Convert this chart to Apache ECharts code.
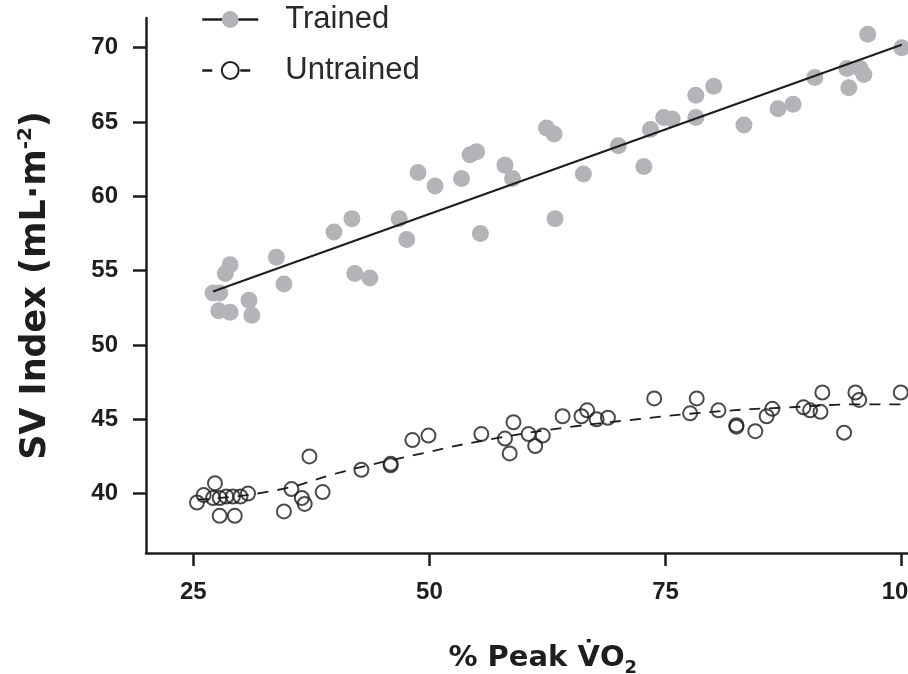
<!DOCTYPE html>
<html>
<head>
<meta charset="utf-8">
<script src="https://cdn.jsdelivr.net/npm/echarts@6/dist/echarts.min.js"></script>
<style>html,body{margin:0;padding:0;background:#fff}#c{width:908px;height:674px}</style>
</head>
<body>
<div id="c"></div>
<script>
// ---- data ----
var trainedX = [27.1,27.8,28.4,28.9,27.7,28.9,30.9,31.2,33.8,34.6,39.9,41.8,42.1,43.7,46.8,47.6,48.8,50.6,53.4,54.3,55.0,55.4,58.0,58.8,62.4,63.2,63.3,66.3,70.0,72.7,73.4,74.8,75.7,78.2,78.2,80.1,83.3,86.9,88.5,90.8,94.2,94.4,95.6,96.0,96.4,100.0];
var trainedY = [53.5,53.5,54.8,55.4,52.3,52.2,53.0,52.0,55.9,54.1,57.6,58.5,54.8,54.5,58.5,57.1,61.6,60.7,61.2,62.8,63.0,57.5,62.1,61.2,64.6,64.2,58.5,61.5,63.4,62.0,64.5,65.3,65.2,66.8,65.3,67.4,64.8,65.9,66.2,68.0,68.6,67.3,68.6,68.2,70.9,70.0];
var untrainedX = [25.4,26.1,27.3,27.1,27.8,28.5,29.2,30.0,30.8,27.8,29.4,34.6,35.4,36.5,36.8,37.3,38.7,42.8,45.9,45.9,48.2,49.9,55.5,58.0,58.5,58.9,60.5,61.2,62.0,64.1,66.1,66.7,67.7,68.9,73.8,77.6,78.3,80.6,82.5,82.5,84.5,85.7,86.3,89.6,90.3,91.4,91.6,93.9,95.1,95.5,99.9];
var untrainedY = [39.4,39.9,40.7,39.7,39.7,39.8,39.8,39.8,40.0,38.5,38.5,38.8,40.3,39.7,39.3,42.5,40.1,41.6,41.9,42.0,43.6,43.9,44.0,43.7,42.7,44.8,44.0,43.2,43.9,45.2,45.2,45.6,45.0,45.1,46.4,45.4,46.4,45.6,44.5,44.6,44.2,45.2,45.7,45.8,45.6,45.5,46.8,44.1,46.8,46.3,46.8];
var trainedFitX = [27.1, 100];
var trainedFitY = [53.6, 70.2];
var untrainedFitX = [25.5, 33.6, 41, 48.5, 56, 64, 72, 80, 88, 96, 100];
var untrainedFitY = [39.6, 40.2, 41.5, 42.6, 43.6, 44.4, 45.0, 45.5, 45.8, 46.0, 46.0];
var xTicks = [25, 50, 75, 100];
var yTicks = [40, 45, 50, 55, 60, 65, 70];
var xRange = [20, 104];
var yRange = [36, 72];
var seriesNames = ['Trained', 'Untrained'];

function pairs(xs, ys) { return xs.map(function (x, i) { return [x, ys[i]]; }); }

var FONT = '"Liberation Sans", Arial, Helvetica, sans-serif';
var TFONT = '"DejaVu Sans", "Liberation Sans", Arial, sans-serif';
var INK = '#1e1e1e';
var GRAY = '#b3b4b7';

var chart = echarts.init(document.getElementById('c'), null, { renderer: 'canvas' });
chart.setOption({
  animation: false,
  backgroundColor: '#fff',
  grid: { left: 146, top: 18, width: 793.5, height: 535, containLabel: false, outerBoundsMode: 'none' },
  legend: {
    orient: 'vertical', left: 201, top: 4, padding: 0,
    itemWidth: 56, itemHeight: 21, itemGap: 20,
    textStyle: { fontFamily: FONT, fontSize: 31, lineHeight: 30, color: '#2a2a2a', padding: [0, 0, 0, 22] },
    data: [
      { name: seriesNames[0], itemStyle: { color: GRAY, borderWidth: 0 }, lineStyle: { color: INK, width: 2.5, type: 'solid' } },
      { name: seriesNames[1], itemStyle: { color: '#fff', borderColor: INK, borderWidth: 2 }, lineStyle: { color: INK, width: 2.5, type: [10, 9] } }
    ]
  },
  xAxis: {
    type: 'value', min: xRange[0], max: xRange[1],
    axisLine: { onZero: false, lineStyle: { color: INK, width: 2.5 } },
    axisTick: { show: true, length: 13, lineStyle: { color: INK, width: 2.5 }, customValues: xTicks },
    axisLabel: { customValues: xTicks, margin: 27, fontFamily: FONT, fontSize: 24, fontWeight: 'bold', color: INK },
    splitLine: { show: false },
    name: '{t|% Peak V\u0307O}{s|2}',
    nameLocation: 'middle', nameGap: 86,
    nameTextStyle: {
      rich: {
        t: { fontFamily: TFONT, fontSize: 29, fontWeight: 'bold', color: INK, lineHeight: 38 },
        s: { fontFamily: TFONT, fontSize: 18, fontWeight: 'bold', color: INK, lineHeight: 16, verticalAlign: 'bottom' }
      }
    }
  },
  yAxis: {
    type: 'value', min: yRange[0], max: yRange[1],
    axisLine: { onZero: false, lineStyle: { color: INK, width: 2.5 } },
    axisTick: { show: true, length: 13, lineStyle: { color: INK, width: 2.5 }, customValues: yTicks },
    axisLabel: { customValues: yTicks, margin: 28, fontFamily: FONT, fontSize: 24, fontWeight: 'bold', color: INK },
    splitLine: { show: false },
    name: '{t|SV Index (mL\u00b7m}{s|-2}{t|)}',
    nameLocation: 'middle', nameGap: 90,
    nameTextStyle: {
      rich: {
        t: { fontFamily: TFONT, fontSize: 35, fontWeight: 'bold', color: INK, lineHeight: 40 },
        s: { fontFamily: TFONT, fontSize: 20, fontWeight: 'bold', color: INK, lineHeight: 18, verticalAlign: 'top' }
      }
    }
  },
  series: [
    {
      name: 'Trained points', type: 'scatter', data: pairs(trainedX, trainedY),
      symbol: 'circle', symbolSize: 17, itemStyle: { color: GRAY, opacity: 1 }, z: 2
    },
    {
      name: 'Untrained points', type: 'scatter', data: pairs(untrainedX, untrainedY),
      symbol: 'circle', symbolSize: 14,
      itemStyle: { color: 'rgba(0,0,0,0)', borderColor: INK, borderWidth: 2 }, z: 2
    },
    {
      name: seriesNames[0], type: 'line', data: pairs(trainedFitX, trainedFitY),
      showSymbol: false, symbol: 'circle', symbolSize: 17,
      itemStyle: { color: GRAY }, lineStyle: { color: INK, width: 2.2 }, z: 3
    },
    {
      name: seriesNames[1], type: 'line', data: pairs(untrainedFitX, untrainedFitY),
      smooth: true, showSymbol: false, symbol: 'circle', symbolSize: 14,
      itemStyle: { color: '#fff', borderColor: INK, borderWidth: 2 },
      lineStyle: { color: INK, width: 1.8, type: [11, 9] }, z: 3
    }
  ]
});
</script>
</body>
</html>
